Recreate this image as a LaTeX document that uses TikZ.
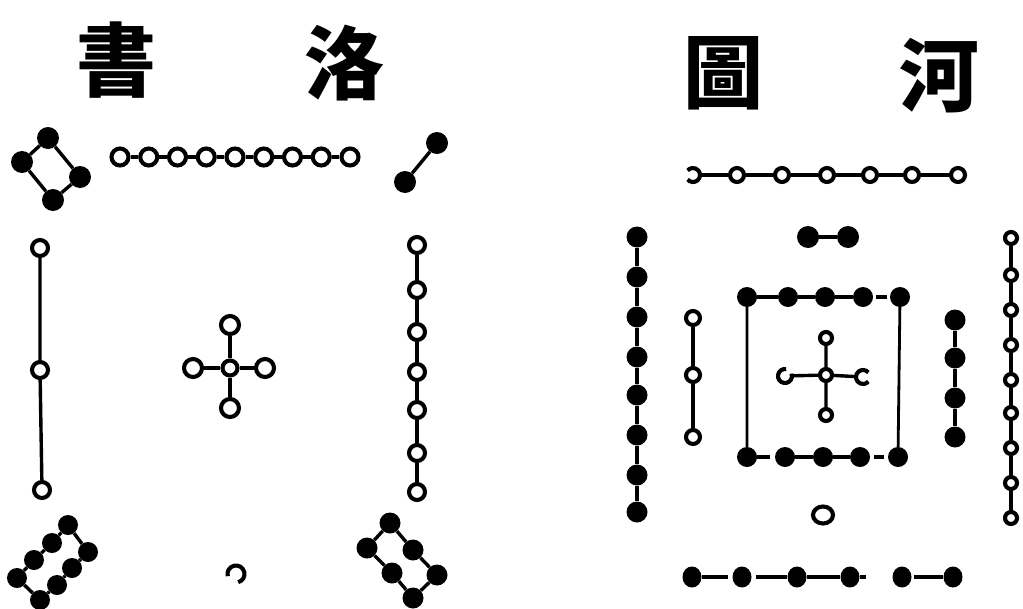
\documentclass[tikz,border=0pt]{standalone}
\usepackage{fontspec}
\newfontfamily\cjk{Noto Sans CJK TC}
\usetikzlibrary{shapes.geometric}
\tikzset{
  wc/.style={circle, draw, fill=white, line width=4.1pt, inner sep=0pt, minimum size=#1},
  wc/.default=15pt,
  bc/.style={circle, fill=black, inner sep=0pt, minimum size=#1},
  bc/.default=18pt,
  ghost/.style={circle, inner sep=0pt, minimum size=#1},
  ln/.style={line width=3.4pt},
  ring/.style={line width=4.1pt},
  title/.style={font=\cjk\bfseries\fontsize{80}{80}\selectfont, inner sep=0pt}
}
\begin{document}
\begin{tikzpicture}[x=1pt,y=-1pt]
\useasboundingbox (0,0) rectangle (1023,608);
% ---------- titles ----------
\node[title] (tShu) at (116,60) {書};
\node[title] (tLuo) at (344,63) {洛};
\node[title] (tTu)  at (723,73) {圖};
\node[title] (tHe)  at (939,76) {河};

% ================= Luoshu =================
% top-left 4
\node[bc=22pt] (q1) at (48,138) {};
\node[bc=22pt] (q2) at (22,162) {};
\node[bc=22pt] (q3) at (53,200) {};
\node[bc=22pt] (q4) at (80,177) {};
\draw[ln] (q1)--(q2) (q2)--(q3) (q3)--(q4) (q4)--(q1);
% top row 9 white
\foreach \i in {1,...,9}{
  \node[wc=17pt] (t\i) at ({120+28.75*(\i-1)},157) {};
}
\foreach \i [evaluate=\i as \j using int(\i+1)] in {1,...,8}{
  \draw[ln] (t\i)--(t\j);
}
% top-right 2
\node[bc=22pt] (r1) at (437,143) {};
\node[bc=22pt] (r2) at (405,182) {};
\draw[ln] (r1)--(r2);
% left column 3
\node[wc=16pt] (l1) at (40,248) {};
\node[wc=16pt] (l2) at (40,370) {};
\node[wc=16pt] (l3) at (42,490) {};
\draw[ln] (l1)--(l2) (l2)--(l3);
% center 5
\node[wc=15pt] (c0) at (230,368) {};
\node[wc=18pt] (c1) at (230,325) {};
\node[wc=18pt] (c2) at (193,368) {};
\node[wc=18pt] (c3) at (265,368) {};
\node[wc=18pt] (c4) at (230,408) {};
\draw[ln] (c0)--(c1) (c0)--(c2) (c0)--(c3) (c0)--(c4);
% right column 7
\foreach \i/\y in {1/245,2/290,3/332,4/372,5/410,6/453,7/492}{
  \node[wc=16pt] (rc\i) at (417,\y) {};
}
\foreach \i [evaluate=\i as \j using int(\i+1)] in {1,...,6}{
  \draw[ln] (rc\i)--(rc\j);
}
% bottom-left 8
\node[bc=20pt] (a1) at (68,525) {};
\node[bc=20pt] (a2) at (52,543) {};
\node[bc=20pt] (a3) at (34,560) {};
\node[bc=20pt] (a4) at (17,578) {};
\node[bc=20pt] (a5) at (40,600) {};
\node[bc=20pt] (a6) at (57,585) {};
\node[bc=20pt] (a7) at (72,568) {};
\node[bc=20pt] (a8) at (88,552) {};
\draw[ln] (a1)--(a2) (a2)--(a3) (a3)--(a4) (a4)--(a5) (a5)--(a6) (a6)--(a7) (a7)--(a8) (a8)--(a1);
% bottom-right 6
\node[bc=21pt] (b1) at (390,523) {};
\node[bc=21pt] (b2) at (413,550) {};
\node[bc=21pt] (b3) at (437,575) {};
\node[bc=21pt] (b4) at (413,598) {};
\node[bc=21pt] (b5) at (392,573) {};
\node[bc=21pt] (b6) at (367,548) {};
\draw[ln] (b1)--(b2) (b2)--(b3) (b3)--(b4) (b4)--(b5) (b5)--(b6) (b6)--(b1);
% bottom 1 (broken ring)
\node[ghost=18pt] (lb) at (236,574) {};
\draw[ring] (lb.center) ++(75:8.5) arc[start angle=75, end angle=-195, radius=8.5];

% ================= Hetu =================
% top row 7 white
\node[ghost=15pt] (h1) at (693,175) {};
\draw[ring] (h1.center) ++(140:7) arc[start angle=140, end angle=-140, radius=7];
\foreach \i/\x in {2/737,3/782,4/827,5/870,6/912,7/958}{
  \node[wc=14pt] (h\i) at (\x,175) {};
}
\foreach \i [evaluate=\i as \j using int(\i+1)] in {1,...,6}{
  \draw[ln] (h\i)--(h\j);
}
% inner top 2 black
\node[bc=22pt] (i1) at (808,237) {};
\node[bc=22pt] (i2) at (848,237) {};
\draw[ln] (i1)--(i2);
% left outer 8 black
\foreach \i/\y in {1/237,2/277,3/317,4/357,5/395,6/435,7/475,8/512}{
  \node[bc=21pt] (lo\i) at (637,\y) {};
}
\foreach \i [evaluate=\i as \j using int(\i+1)] in {1,...,7}{
  \draw[ln] (lo\i)--(lo\j);
}
% inner left 3 white
\node[wc=14pt] (il1) at (693,318) {};
\node[wc=14pt] (il2) at (693,375) {};
\node[wc=14pt] (il3) at (693,437) {};
\draw[ln] (il1)--(il2) (il2)--(il3);
% box of 10 black
\foreach \i/\x in {1/747,2/788,3/825,4/863,5/900}{
  \node[bc=20pt] (bt\i) at (\x,297) {};
}
\foreach \i/\x in {1/747,2/785,3/823,4/860,5/898}{
  \node[bc=20pt] (bb\i) at (\x,457) {};
}
\draw[ln] (bt1)--(bt2);
\draw[ln, shorten <=3pt, shorten >=3pt] (bt2)--(bt3) (bt3)--(bt4) (bt4)--(bt5);
\draw[ln, shorten >=5pt] (bb1)--(bb2);
\draw[ln, shorten <=4pt, shorten >=4pt] (bb2)--(bb3) (bb3)--(bb4) (bb4)--(bb5);
\draw[line width=2.8pt] (bt1)--(bb1) (bt5)--(bb5);
% center 5 white
\node[wc=12pt] (m0) at (826,375) {};
\node[wc=12pt] (m1) at (826,338) {};
\node[wc=12pt] (m4) at (826,415) {};
\node[ghost=14pt] (m2) at (785,376) {};
\node[ghost=14pt] (m3) at (863,377) {};
\draw[ring] (m2.center) ++(-80:7) arc[start angle=-80, end angle=-380, radius=7];
\draw[ring] (m3.center) ++(-40:7) arc[start angle=-40, end angle=-320, radius=7];
\draw[ln] (m0)--(m1) (m0)--(m4) (m0)--(m2) (m0)--(m3);
% inner right 4 black
\foreach \i/\y in {1/320,2/358,3/398,4/437}{
  \node[bc=21pt] (ir\i) at (955,\y) {};
}
\foreach \i [evaluate=\i as \j using int(\i+1)] in {1,...,3}{
  \draw[ln] (ir\i)--(ir\j);
}
% right outer 9 white
\foreach \i/\y in {1/238,2/275,3/310,4/345,5/380,6/413,7/448,8/483,9/518}{
  \node[wc=12pt] (ro\i) at (1011,\y) {};
}
\foreach \i [evaluate=\i as \j using int(\i+1)] in {1,...,8}{
  \draw[ln] (ro\i)--(ro\j);
}
% bottom inner 1 white
\node[ellipse, draw, fill=white, line width=4.1pt, inner sep=0pt, minimum width=20pt, minimum height=17pt] (hw) at (823,515) {};
% bottom outer 6 black
\foreach \i/\x in {1/692,2/742,3/797,4/850,5/902,6/953}{
  \node[ellipse, fill=black, inner sep=0pt, minimum width=19pt, minimum height=21pt] (hb\i) at (\x,577) {};
}
\coordinate (hbs) at (866,577);
\draw[ln, shorten >=4pt] (hb1)--(hb2);
\draw[ln, shorten <=4pt] (hb2)--(hb3);
\draw[ln] (hb3)--(hb4);
\draw[ln] (hb4)--(hbs);
\draw[ln, shorten <=2pt] (hb5)--(hb6);
\end{tikzpicture}
\end{document}
